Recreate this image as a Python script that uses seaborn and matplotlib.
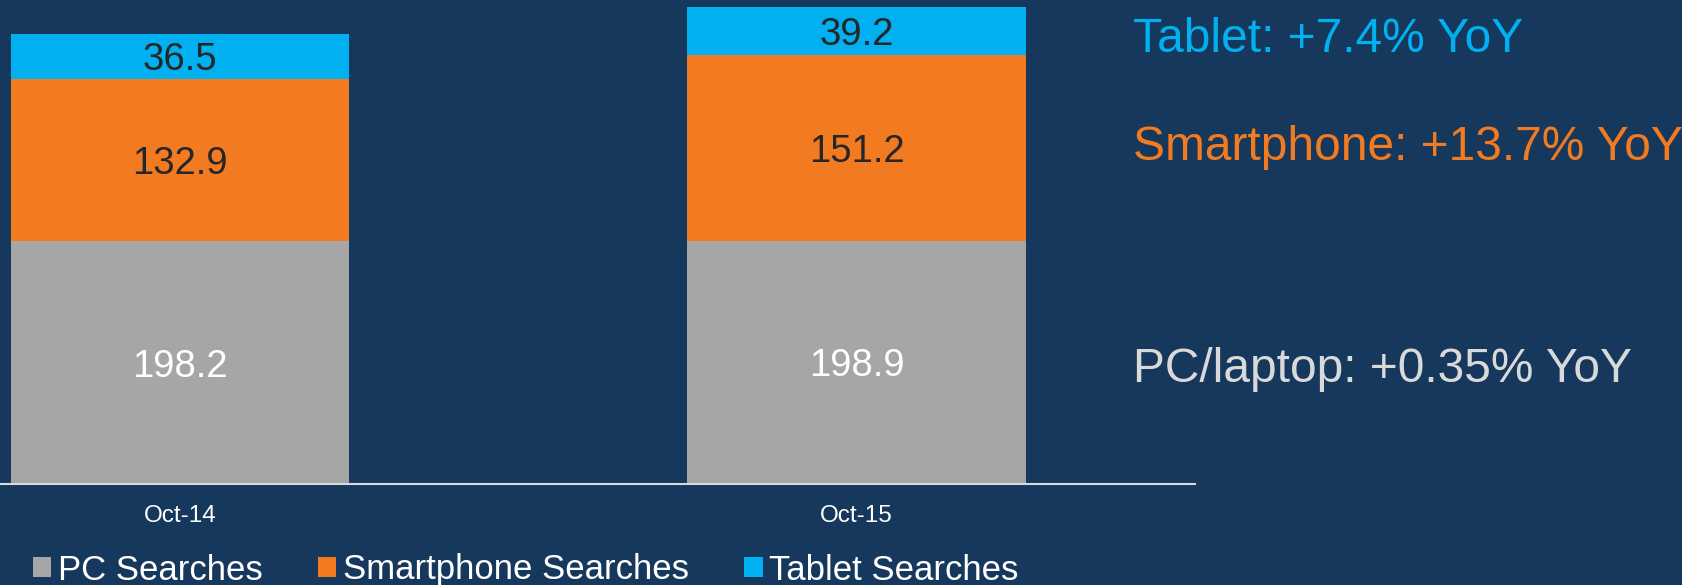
import pandas as pd
import matplotlib
matplotlib.use('Agg')
import matplotlib.pyplot as plt
import seaborn as sns
from matplotlib.patches import Patch

# Daten (Mio. Suchanfragen)
periods = ['Oct-14', 'Oct-15']
pc = [198.2, 198.9]
smartphone = [132.9, 151.2]
tablet = [36.5, 39.2]
series_names = ['PC Searches', 'Smartphone Searches', 'Tablet Searches']
yoy_texts = ['Tablet: +7.4% YoY', 'Smartphone: +13.7% YoY', 'PC/laptop: +0.35% YoY']

BG = '#15385C'
GREY = '#A6A6A6'
ORANGE = '#F27B21'
BLUE = '#00B0F0'
LIGHT = '#D9D9D9'

sns.set_style('white')
plt.rcParams['font.family'] = ['Liberation Sans', 'DejaVu Sans']

df = pd.DataFrame({'period': periods, 'pc': pc, 'smartphone': smartphone, 'tablet': tablet})
df['pc_phone'] = df['pc'] + df['smartphone']
df['total'] = df['pc_phone'] + df['tablet']

fig = plt.figure(figsize=(16.83, 5.85), dpi=100, facecolor=BG)
ax = fig.add_axes([0, 101 / 585, 1195 / 1683, 484 / 585])
ax.set_facecolor(BG)

# gestapelt durch Überlagerung der kumulierten Summen
for col, c in [('total', BLUE), ('pc_phone', ORANGE), ('pc', GREY)]:
    sns.barplot(data=df, x='period', y=col, color=c, saturation=1, width=0.5,
                linewidth=0, ax=ax)

# Werte in die Segmente schreiben
for i, row in df.iterrows():
    ax.text(i, row['pc'] / 2, f"{row['pc']:.1f}", ha='center', va='center_baseline',
            fontsize=27.5, color='white')
    ax.text(i, row['pc'] + row['smartphone'] / 2, f"{row['smartphone']:.1f}",
            ha='center', va='center_baseline', fontsize=27.5, color='#262626')
    ax.text(i, row['pc_phone'] + row['tablet'] / 2, f"{row['tablet']:.1f}",
            ha='center', va='center_baseline', fontsize=27.5, color='#262626')

ax.set_xlim(-0.266, 1.5)
ax.set_ylim(0, 395.4)
ax.set_xlabel('')
ax.set_ylabel('')
ax.set_yticks([])
ax.tick_params(axis='x', length=0, pad=15, labelsize=17.5, labelcolor='white')
for s in ['top', 'left', 'right']:
    ax.spines[s].set_visible(False)
ax.spines['bottom'].set_color(LIGHT)
ax.spines['bottom'].set_linewidth(1.5)

# Legende unten
handles = [Patch(facecolor=c, edgecolor='none') for c in [GREY, ORANGE, BLUE]]
fig.legend(handles, series_names, loc='center left', bbox_to_anchor=(33 / 1683, 1 - 570 / 585),
           ncol=3, frameon=False, fontsize=25, labelcolor='white', borderpad=0,
           borderaxespad=0, handlelength=0.53, handleheight=0.53, handletextpad=0.18,
           columnspacing=1.6)

# Wachstumsraten rechts
for txt, c, y in zip(yoy_texts, [BLUE, ORANGE, LIGHT], [35, 143, 365]):
    fig.text(1133 / 1683, 1 - y / 585, txt, color=c, fontsize=34.5, ha='left',
             va='center_baseline')

fig.savefig('out.png', dpi=100, facecolor=BG)
